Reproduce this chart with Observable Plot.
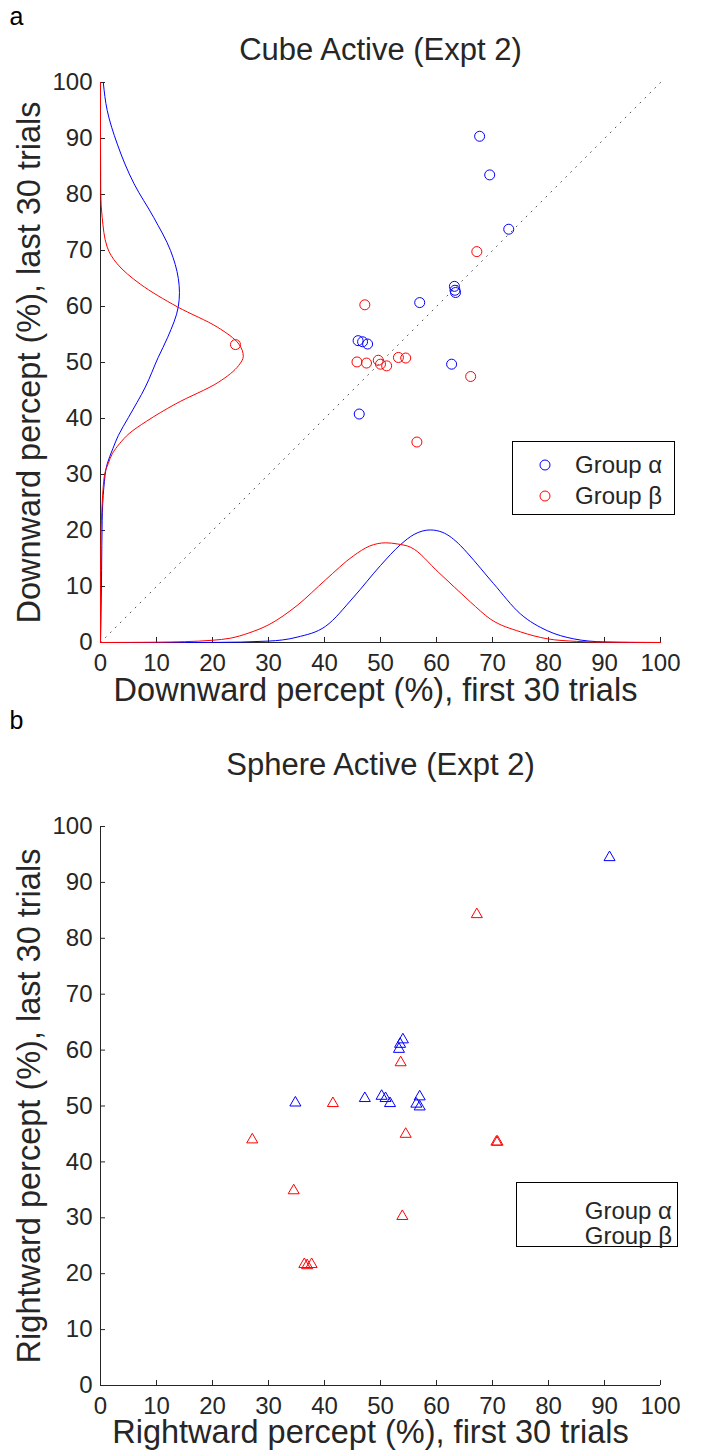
<!DOCTYPE html>
<html><head><meta charset="utf-8">
<script src="https://cdn.jsdelivr.net/npm/d3@7"></script>
<script src="https://cdn.jsdelivr.net/npm/@observablehq/plot@0.6"></script>
<style>
body{margin:0;background:#fff;font-family:"Liberation Sans",Arial,Helvetica,sans-serif;}
#wrap{position:relative;width:701px;height:1450px;background:#fff;}
.abs{position:absolute;}
</style></head><body><div id="wrap"></div>
<script>
// ---------- data ----------
const tickValues = [0,10,20,30,40,50,60,70,80,90,100];

// Panel a: Cube Active (Expt 2)
const aAlphaX = [67.7, 69.5, 72.9, 63.2, 63.3, 63.4, 57.0, 46.0, 46.8, 47.7, 62.7, 46.2];
const aAlphaY = [90.4, 83.5, 73.8, 63.6, 62.9, 62.5, 60.7, 53.9, 53.7, 53.3, 49.7, 40.8];
const aBetaX  = [67.2, 47.2, 45.8, 47.5, 49.6, 50.0, 51.1, 53.2, 54.5, 66.1, 56.5, 24.1];
const aBetaY  = [69.8, 60.3, 50.1, 49.9, 50.4, 49.7, 49.4, 50.9, 50.8, 47.5, 35.8, 53.2];

// fitted distribution curves (bottom: over x; left: over y)
const botAlphaX = [0, 20, 30, 35.1, 40.2, 45.2, 50, 53.6, 56, 58.9, 61, 64.3, 65.5, 70.2, 75, 79.8, 84.5, 89.9, 95, 100];
const botAlphaY = [0, 0.01, 0.25, 0.95, 2.9, 8.1, 13.75, 17.5, 19.3, 20.1, 19.7, 17.3, 16.0, 10.5, 5.1, 2.1, 0.65, 0.1, 0.02, 0];
const botBetaX  = [0, 10, 15, 20, 23.2, 26.5, 30.1, 35.1, 40.2, 45.2, 48, 50.9, 53, 55.4, 60.4, 66.1, 69.6, 75, 79.8, 85, 90, 100];
const botBetaY  = [0, 0.05, 0.15, 0.4, 0.77, 1.7, 3.2, 6.6, 11.2, 15.5, 17.2, 17.8, 17.6, 17.0, 12.5, 7.2, 4.2, 1.9, 0.66, 0.2, 0.05, 0];
const leftAlphaY = [0, 5, 12.9, 21.8, 27.7, 31.9, 34.6, 37, 40.2, 45.6, 50.9, 54.5, 60, 62.5, 65, 70, 75.9, 81.9, 89, 95, 100];
const leftAlphaX = [0, 0.1, 0.2, 0.3, 0.6, 1.2, 2.2, 3.2, 5.0, 8.0, 10.3, 12.0, 13.9, 14.1, 13.9, 12.5, 9.5, 6.0, 3.0, 1.2, 0.5];
const leftBetaY = [0, 10, 20, 24.8, 28, 30.7, 32, 33.7, 35.5, 37.3, 39.5, 42.6, 46.5, 49.5, 51.1, 53.3, 56.3, 59.9, 64.0, 67.6, 70.6, 75.9, 80, 90, 100];
const leftBetaX = [0, 0, 0.1, 0.3, 0.5, 0.9, 1.4, 2.1, 3.4, 5.1, 8.2, 13.4, 21.1, 24.7, 25.5, 24.7, 20.9, 13.8, 7.1, 3.0, 1.2, 0.3, 0.05, 0, 0];
const diagonal = [0, 100];

// Panel b: Sphere Active (Expt 2)
const bAlphaX = [54.0, 53.5, 53.3, 34.8, 47.2, 50.2, 50.9, 51.7, 57.0, 56.4, 57.0, 90.9];
const bAlphaY = [61.6, 60.8, 59.9, 50.3, 51.1, 51.5, 51.1, 50.2, 51.4, 50.1, 49.6, 94.2];
const bBetaX  = [53.6, 41.5, 27.1, 54.5, 70.7, 70.9, 34.5, 53.9, 67.2, 36.4, 36.9, 37.7];
const bBetaY  = [57.5, 50.2, 43.7, 44.7, 43.3, 43.3, 34.6, 30.0, 84.0, 21.4, 21.2, 21.4];

const groupNames = ["Group \u03b1", "Group \u03b2"];
const groupColors = ["#0000ff", "#ff0000"];

// ---------- helpers ----------
const zip = (xs, ys) => xs.map((x, i) => ({x, y: ys[i]}));
const FONT = '"Liberation Sans", Arial, Helvetica, sans-serif';
const AX = "#262626";

function frameMarks(o) {
  return [
    Plot.axisX({ticks: tickValues, tickSize: 0, tickPadding: 11, fontSize: 24, tickFormat: d => d, label: null}),
    Plot.axisY({ticks: tickValues, tickSize: 0, tickPadding: 8, fontSize: 24, tickFormat: d => d, label: null}),
    Plot.ruleX(tickValues, {x: d => d, y1: 0, y2: 0.9, stroke: AX}),
    Plot.ruleY(tickValues, {y: d => d, x1: 0, x2: 0.9, stroke: AX}),
    Plot.text([o.panel], {text: d => d, frameAnchor: "top-left", textAnchor: "start", lineAnchor: "middle", dx: -91, dy: o.panelDy, fontSize: 25, fill: "#000"}),
    Plot.text([o.title], {text: d => d, frameAnchor: "top", lineAnchor: "middle", dy: o.titleDy, fontSize: 31, fill: AX}),
    Plot.text([o.xlabel], {text: d => d, frameAnchor: "bottom", lineAnchor: "middle", dx: o.xlabDx, dy: o.xlabDy, fontSize: o.xlabSize, fill: AX}),
    Plot.text([o.ylabel], {text: d => d, frameAnchor: "left", textAnchor: "middle", lineAnchor: "middle", dx: -71, rotate: -90, fontSize: o.xlabSize, fill: AX})
  ];
}

const wrap = document.getElementById("wrap");

// ---------- panel b (drawn first, so panel a's label may overhang it) ----------
const plotB = Plot.plot({
  width: 701, height: 750,
  marginLeft: 100, marginRight: 41, marginTop: 126, marginBottom: 65,
  x: {domain: [0, 100]}, y: {domain: [0, 100]},
  style: {fontFamily: FONT, color: AX, background: "transparent", overflow: "visible"},
  marks: [
    ...frameMarks({panel: "b", panelDy: -106, title: "Sphere Active (Expt 2)", titleDy: -61,
      xlabel: "Rightward percept (%), first 30 trials", xlabDx: -10, xlabDy: 47.5, xlabSize: 32.5,
      ylabel: "Rightward percept (%), last 30 trials"}),
    Plot.ruleX([0], {stroke: AX}),
    Plot.ruleY([0], {stroke: AX}),
    Plot.dot(zip(bAlphaX, bAlphaY), {x: "x", y: "y", r: 4.1, symbol: "triangle", dy: -1.5, stroke: groupColors[0], strokeWidth: 1, fill: "none"}),
    Plot.dot(zip(bBetaX, bBetaY), {x: "x", y: "y", r: 4.1, symbol: "triangle", dy: -1.5, stroke: groupColors[1], strokeWidth: 1, fill: "none"})
  ]
});
plotB.classList.add("abs");
plotB.style.left = "0px"; plotB.style.top = "700px";
wrap.appendChild(plotB);

// ---------- panel a ----------
const plotA = Plot.plot({
  width: 701, height: 700,
  marginLeft: 100, marginRight: 41, marginTop: 82, marginBottom: 58,
  x: {domain: [0, 100]}, y: {domain: [0, 100]},
  style: {fontFamily: FONT, color: AX, background: "transparent", overflow: "visible"},
  marks: [
    ...frameMarks({panel: "a", panelDy: -66, title: "Cube Active (Expt 2)", titleDy: -32,
      xlabel: "Downward percept (%), first 30 trials", xlabDx: -5, xlabDy: 48, xlabSize: 32.5,
      ylabel: "Downward percept (%), last 30 trials"}),
    Plot.line(zip(diagonal, diagonal), {x: "x", y: "y", stroke: "#555", strokeWidth: 1, strokeDasharray: "1,6"}),
    Plot.ruleX([0], {stroke: AX}),
    Plot.ruleY([0], {stroke: AX}),
    Plot.line(zip(botAlphaX, botAlphaY), {x: "x", y: "y", stroke: groupColors[0], strokeWidth: 1, curve: "monotone-x"}),
    Plot.line(zip(botBetaX, botBetaY), {x: "x", y: "y", stroke: groupColors[1], strokeWidth: 1, curve: "monotone-x"}),
    Plot.line(zip(leftAlphaX, leftAlphaY), {x: "x", y: "y", stroke: groupColors[0], strokeWidth: 1, curve: "monotone-y"}),
    Plot.line(zip(leftBetaX, leftBetaY), {x: "x", y: "y", stroke: groupColors[1], strokeWidth: 1, curve: "monotone-y"}),
    Plot.dot(zip(aAlphaX, aAlphaY), {x: "x", y: "y", r: 5, stroke: groupColors[0], strokeWidth: 1, fill: "none"}),
    Plot.dot(zip(aBetaX, aBetaY), {x: "x", y: "y", r: 5, stroke: groupColors[1], strokeWidth: 1, fill: "none"})
  ]
});
plotA.classList.add("abs");
plotA.style.left = "0px"; plotA.style.top = "0px";
wrap.appendChild(plotA);

// ---------- legends ----------
function legend({left, top, width, height, rows, markers, textX, anchor}) {
  const svg = d3.create("svg").attr("width", width + 2).attr("height", height + 2)
    .attr("class", "abs").style("left", (left - 1) + "px").style("top", (top - 1) + "px")
    .style("font-family", FONT);
  svg.append("rect").attr("x", 1.5).attr("y", 1.5).attr("width", width - 1).attr("height", height - 1)
    .attr("fill", "#fff").attr("stroke", "#000").attr("stroke-width", 1);
  groupNames.forEach((name, i) => {
    if (markers) svg.append("circle").attr("cx", 34).attr("cy", rows[i]).attr("r", 5)
      .attr("fill", "none").attr("stroke", groupColors[i]);
    svg.append("text").attr("x", textX).attr("y", rows[i]).attr("dy", "0.35em")
      .attr("text-anchor", anchor).attr("font-size", 24).attr("fill", AX).text(name);
  });
  wrap.appendChild(svg.node());
}
legend({left: 512, top: 441, width: 163, height: 74, rows: [25, 56], markers: true, textX: 64, anchor: "start"});
legend({left: 516, top: 1182, width: 162, height: 65, rows: [30, 55], markers: false, textX: 157, anchor: "end"});
</script>
</body></html>
